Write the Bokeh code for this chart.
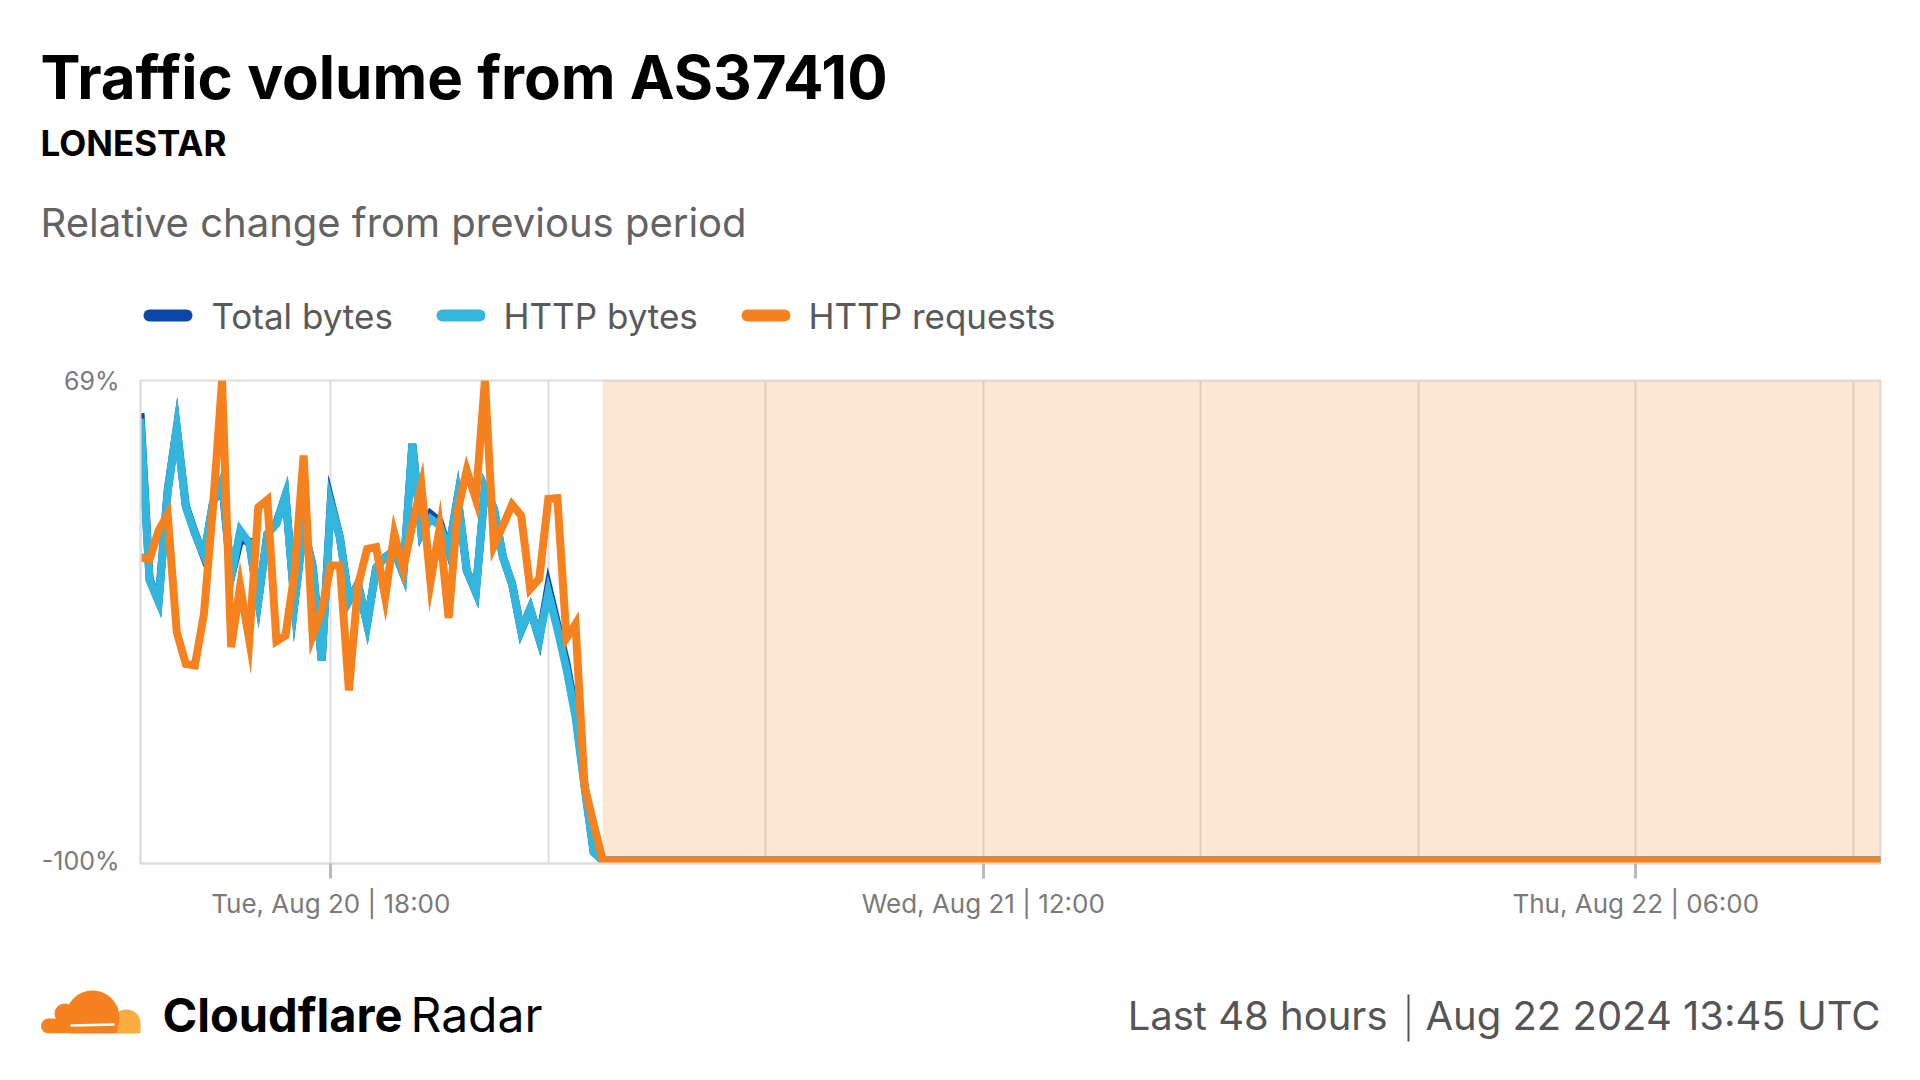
import pandas as pd
from bokeh.plotting import figure
from bokeh.layouts import column
from bokeh.models import (Range1d, FixedTicker, DatetimeTickFormatter,
                          PrintfTickFormatter, BoxAnnotation)
from bokeh.core.properties import value
from bokeh.embed import file_html
from bokeh.resources import INLINE

# ---------------- data ----------------
TITLE = "Traffic volume from AS37410"
SUBTITLE = "LONESTAR"
DESCRIPTION = "Relative change from previous period"
SERIES_NAMES = ["Total bytes", "HTTP bytes", "HTTP requests"]
SERIES_COLORS = ["#0A47AB", "#33B6DE", "#F6821F"]
FOOTER_LEFT = "Last 48 hours"
FOOTER_RIGHT = "Aug 22 2024 13:45 UTC"

START = "2024-08-20 12:45"
STEP = "15min"
SHADE_START = "2024-08-21 01:30"
END = "2024-08-22 12:45"

total_bytes = [57.5, -1.0, -8.6, 30.4, 52.3, 24.8, 15.4, 7.0, 26.0, 33.0,
               -0.2, 13.0, 12.3, -8.5, 15.0, 18.9, 28.5, -9.3, 17.4, 3.6,
               -29.6, 26.6, 13.8, -8.5, -2.6, -16.7, 3.0, 6.8, 9.1, 0.9,
               46.7, 15.4, 22.0, 19.4, 9.1, 27.9, 2.1, -5.5, 31.0, 23.8,
               6.8, -2.6, -19.0, -11.4, -22.0, -3.6, -17.0, -30.5, -48.0, -73.5,
               -97.0, -100.0] + [-100.0] * 141
http_bytes = [55.5, -1.4, -9.0, 30.0, 52.3, 24.4, 15.0, 7.5, 26.0, 33.8,
              -0.2, 16.2, 11.8, -8.5, 15.0, 18.5, 28.5, -9.3, 17.4, 3.3,
              -29.6, 25.6, 13.8, -8.5, -2.6, -16.7, 3.0, 6.8, 9.1, 0.9,
              46.7, 15.0, 20.3, 18.0, 9.1, 27.9, 2.1, -5.5, 31.0, 23.8,
              6.8, -2.6, -19.0, -11.4, -22.0, -5.8, -18.5, -32.5, -49.5, -74.1,
              -97.0, -100.0] + [-100.0] * 141
http_requests = [6.8, 6.0, 16.2, 21.8, -19.6, -30.8, -31.3, -13.2, 24.5, 69.0,
                 -24.9, -3.5, -22.5, 24.4, 27.0, -22.8, -20.8, 1.5, 42.6, -20.8,
                 -12.0, 3.9, 3.9, -40.1, -3.2, 9.7, 10.3, -7.3, 15.0, 2.7,
                 18.3, 32.0, -2.0, 16.8, -14.6, 23.2, 37.3, 27.3, 69.0, 10.9,
                 18.0, 25.3, 21.5, -4.4, -0.8, 27.3, 27.6, -21.7, -16.7, -73.9,
                 -87.0, -100.0] + [-100.0] * 141

Y_TICKS = [-100, 69]
LABEL_TICKS = ["2024-08-20 18:00", "2024-08-21 12:00", "2024-08-22 06:00"]
GRID_TICKS = ["2024-08-20 18:00", "2024-08-21 00:00", "2024-08-21 06:00",
              "2024-08-21 12:00", "2024-08-21 18:00", "2024-08-22 00:00",
              "2024-08-22 06:00", "2024-08-22 12:00"]

times = pd.date_range(START, periods=len(http_bytes), freq=STEP)


def ms(s):
    return pd.Timestamp(s).value / 1e6


def no_align(fig):
    try:
        fig.frame_align = False
    except Exception:
        pass


FONT = "Inter"
W = 1904


def blank(height):
    f = figure(width=W, height=height, x_range=Range1d(0, W), y_range=Range1d(height, 0),
               x_axis_location=None, y_axis_location=None, toolbar_location=None,
               output_backend="svg", min_border=0)
    f.min_border_left = f.min_border_right = f.min_border_top = f.min_border_bottom = 0
    f.grid.visible = False
    f.outline_line_color = None
    no_align(f)
    return f


# ---------------- header ----------------
head = blank(350)
head.text(x=[40], y=[76], text=[TITLE], text_font=value(FONT), text_font_style="bold",
          text_font_size="60px", text_color="#000000", text_baseline="middle")
head.text(x=[40], y=[142], text=[SUBTITLE], text_font=value(FONT), text_font_style="bold",
          text_font_size="35px", text_color="#000000", text_baseline="middle")
head.text(x=[40], y=[222], text=[DESCRIPTION], text_font=value(FONT),
          text_font_size="40px", text_color="#636363", text_baseline="middle")

leg_x0 = [149, 442, 747]
leg_tx = [211, 503, 808]
leg_y = 315
head.segment(x0=leg_x0, y0=[leg_y] * 3, x1=[x + 37 for x in leg_x0], y1=[leg_y] * 3,
             line_color=SERIES_COLORS, line_width=12, line_cap="round")
head.text(x=leg_tx, y=[leg_y] * 3, text=SERIES_NAMES, text_font=value(FONT),
          text_font_size="35px", text_color="#595959", text_baseline="middle")

# ---------------- chart ----------------
# 69 -> page y 380, -100 -> page y 860 (2.8402 px per unit); frame kept 3 px taller
# so that the -100 line is not cut in half
y_start = Y_TICKS[1] - 483 / (480 / (Y_TICKS[1] - Y_TICKS[0]))
p = figure(width=W, height=590, x_axis_type="datetime",
           x_range=Range1d(times[0].to_pydatetime(), pd.Timestamp(END).to_pydatetime()),
           y_range=Range1d(y_start, Y_TICKS[1]), toolbar_location=None, output_backend="svg",
           min_border_left=140, min_border_right=24, min_border_top=30, min_border_bottom=77)
no_align(p)
p.outline_line_color = "#dddddd"
p.outline_line_width = 2
p.ygrid.visible = False
p.xgrid.ticker = FixedTicker(ticks=[ms(t) for t in GRID_TICKS])
p.xgrid.grid_line_color = "#dddddd"
p.xgrid.grid_line_width = 2

fmt = "%a, %b %d | %H:%M"
p.xaxis.ticker = FixedTicker(ticks=[ms(t) for t in LABEL_TICKS])
p.xaxis.formatter = DatetimeTickFormatter(milliseconds=fmt, seconds=fmt, minsec=fmt,
                                          minutes=fmt, hourmin=fmt, hours=fmt, days=fmt,
                                          months=fmt, years=fmt)
p.xaxis.axis_line_color = "#dddddd"
p.xaxis.axis_line_width = 2
p.xaxis.major_tick_line_color = "#bbbbbb"
p.xaxis.major_tick_line_width = 3
p.xaxis.major_tick_out = 15
p.xaxis.major_tick_in = 0
p.xaxis.minor_tick_line_color = None
p.xaxis.major_label_standoff = 9
p.xaxis.major_label_text_font = FONT
p.xaxis.major_label_text_font_size = "26px"
p.xaxis.major_label_text_color = "#7a7a7a"

p.yaxis.ticker = FixedTicker(ticks=Y_TICKS)
p.yaxis.formatter = PrintfTickFormatter(format="%d%%")
p.yaxis.axis_line_color = "#dddddd"
p.yaxis.axis_line_width = 2
p.yaxis.major_tick_line_color = None
p.yaxis.major_tick_out = 0
p.yaxis.major_tick_in = 0
p.yaxis.minor_tick_line_color = None
p.yaxis.major_label_standoff = 21
p.yaxis.major_label_text_font = FONT
p.yaxis.major_label_text_font_size = "25px"
p.yaxis.major_label_text_color = "#7a7a7a"

shade = BoxAnnotation(left=pd.Timestamp(SHADE_START).to_pydatetime(), fill_color="#F6821F",
                      fill_alpha=0.2, line_color=None, level="underlay")
p.add_layout(shade)

for vals, col in zip([total_bytes, http_bytes, http_requests], SERIES_COLORS):
    p.line(times, vals, line_color=col, line_width=8, line_join="miter")

# ---------------- footer ----------------
foot = blank(132)

# cloud logo
foot.circle(x=[126], y=[83], radius=14, fill_color="#FBAD41", line_color=None)
foot.quad(left=[126], right=[140], top=[83], bottom=[93], fill_color="#FBAD41", line_color=None)
foot.circle(x=[92, 64, 48], y=[77, 73, 85.5], radius=[27, 10, 7.5], fill_color="#F6821F",
            line_color=None)
foot.quad(left=[48], right=[117], top=[78], bottom=[93], fill_color="#F6821F", line_color=None)
foot.quad(left=[28], right=[158], top=[93], bottom=[120], fill_color="white", line_color=None)
foot.segment(x0=[70], y0=[85], x1=[114], y1=[84], line_color="white", line_width=2.5)

foot.text(x=[162], y=[74], text=["Cloudflare"], text_font=value(FONT), text_font_style="bold",
          text_font_size="47px", text_color="#000000", text_baseline="middle")
foot.text(x=[410], y=[74], text=["Radar"], text_font=value(FONT),
          text_font_size="48px", text_color="#000000", text_baseline="middle")

foot.text(x=[1387], y=[75], text=[FOOTER_LEFT], text_font=value(FONT), text_align="right",
          text_font_size="40px", text_color="#555555", text_baseline="middle")
foot.segment(x0=[1408], y0=[54], x1=[1408], y1=[101], line_color="#555555", line_width=2)
foot.text(x=[1880], y=[75], text=[FOOTER_RIGHT], text_font=value(FONT), text_align="right",
          text_font_size="40px", text_color="#555555", text_baseline="middle")

layout = column(head, p, foot, spacing=0)
open("out.html", "w").write(file_html(layout, INLINE))
